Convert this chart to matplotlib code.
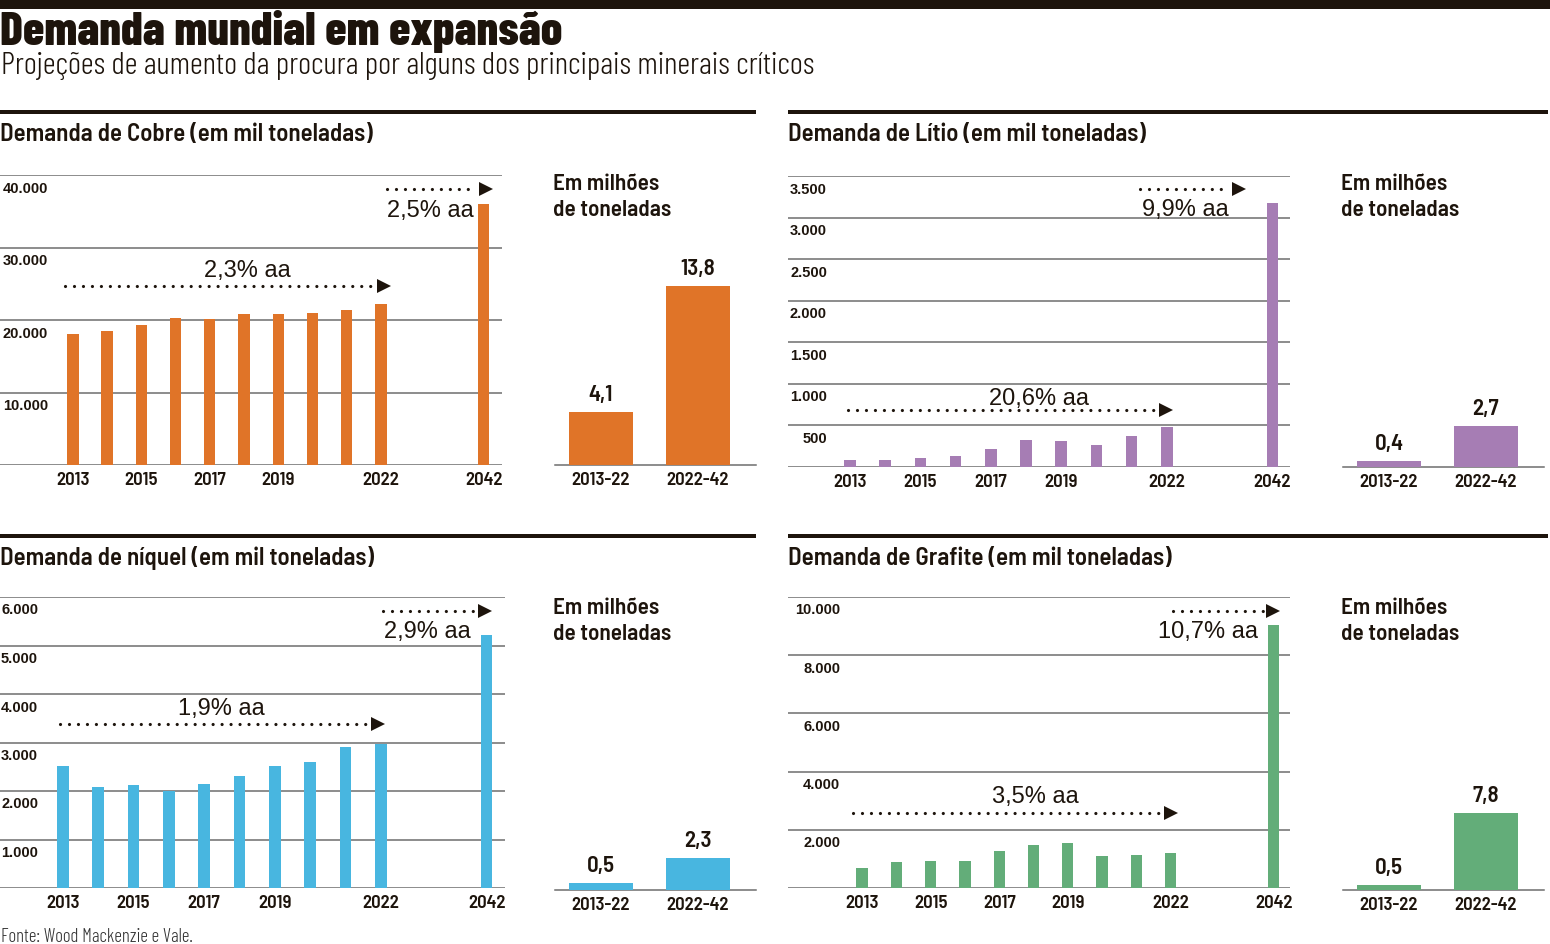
import matplotlib
matplotlib.use("Agg")
import matplotlib.pyplot as plt
from matplotlib.patches import Rectangle
from matplotlib.transforms import ScaledTranslation

# ---------------- data ----------------
years = ['2013', '2014', '2015', '2016', '2017', '2018', '2019', '2020', '2021', '2022', '2042']
year_pos = [0, 1, 2, 3, 4, 5, 6, 7, 8, 9, 12]
shown_years = ['2013', '2015', '2017', '2019', '2022', '2042']

copper = [18070, 18480, 19260, 20230, 20090, 20830, 20830, 20920, 21430, 22160, 36000]
lithium = [88, 88, 108, 128, 221, 321, 317, 261, 369, 478, 3170]
nickel = [2515, 2082, 2117, 1993, 2137, 2302, 2522, 2605, 2907, 2976, 5223]
graphite = [699, 882, 928, 928, 1283, 1489, 1558, 1088, 1145, 1203, 9049]

periods = ['2013-22', '2022-42']
copper_total = [4.1, 13.8]
lithium_total = [0.4, 2.7]
nickel_total = [0.5, 2.3]
graphite_total = [0.5, 7.8]

copper_growth = ['2,3% aa', '2,5% aa']
lithium_growth = ['20,6% aa', '9,9% aa']
nickel_growth = ['1,9% aa', '2,9% aa']
graphite_growth = ['3,5% aa', '10,7% aa']

title = 'Demanda mundial em expansão'
subtitle = 'Projeções de aumento da procura por alguns dos principais minerais críticos'
source = 'Fonte: Wood Mackenzie e Vale.'
unit_note = ['Em milhões', 'de toneladas']

# ---------------- style / layout ----------------
W, H, DPI = 1550, 944, 100
INK = '#1d140c'
GRID = '#6e6e6e'
COND = ['Barlow Condensed', 'DejaVu Sans']
SEMI = ['Barlow Semi Condensed', 'Barlow Condensed', 'DejaVu Sans']
SANS = ['Liberation Sans', 'DejaVu Sans']

fig = plt.figure(figsize=(W / DPI, H / DPI), dpi=DPI)
fig.patch.set_facecolor('white')
renderer = fig.canvas.get_renderer()


def px_axes(x0, y0, x1, y1):
    return fig.add_axes([x0 / W, 1 - y1 / H, (x1 - x0) / W, (y1 - y0) / H])


def fig_text(x, y, s, target_w=None, **kw):
    kw.setdefault('color', INK)
    t = fig.text(x / W, 1 - y / H, s, va='baseline', ha='left', **kw)
    if target_w:
        bb = t.get_window_extent(renderer)
        t.set_fontsize(t.get_fontsize() * target_w / bb.width)
    return t


def rect(x0, y0, x1, y1):
    fig.add_artist(Rectangle((x0 / W, 1 - y1 / H), (x1 - x0) / W, (y1 - y0) / H,
                             transform=fig.transFigure, color=INK, lw=0))


def dotted_arrow(ax, x0, x1, y):
    head_px = 13
    ms = head_px * 72 / DPI
    inv = ax.transData.inverted()
    tip_disp = ax.transData.transform((x1, y))
    base_x = inv.transform((tip_disp[0] - head_px, tip_disp[1]))[0]
    ax.plot([x0, base_x - 0.1], [y, y], color=INK, lw=2.3, ls=(0, (0.01, 2.8)),
            dash_capstyle='round', solid_capstyle='round', zorder=4)
    off = ScaledTranslation(-head_px / 2 / DPI, 0, fig.dpi_scale_trans)
    ax.plot([x1], [y], marker='>', ms=ms * 1.1, color=INK, mew=0,
            transform=ax.transData + off, zorder=4)


def fmt(v):
    return f'{v:,.0f}'.replace(',', '.')


panels = [
    dict(name='Demanda de Cobre (em mil toneladas)', head_w=372, ox=0, oy=0,
         main=(0, 175, 502, 465), xlim=(-2.13, 12.54), vals=copper, ymax=40000, step=10000,
         lab_r=48, color='#e07428', totals=copper_total, small_max=22.4,
         growth=copper_growth,
         g1=dict(x0=-0.23, x1=9.27, y=24690, tx=5.10, ty=25930),
         g2=dict(x0=9.18, x1=12.25, y=38070, tx=11.70, ty=34210)),
    dict(name='Demanda de Lítio (em mil toneladas)', head_w=358, ox=788, oy=0,
         main=(788, 176, 1290, 467), xlim=(-1.76, 12.5), vals=lithium, ymax=3500, step=500,
         lab_r=39, color='#a67db4', totals=lithium_total, small_max=19.1,
         growth=lithium_growth,
         g1=dict(x0=-0.06, x1=9.15, y=686, tx=5.36, ty=746),
         g2=dict(x0=8.24, x1=11.25, y=3344, tx=10.77, ty=3019)),
    dict(name='Demanda de níquel (em mil toneladas)', head_w=373, ox=0, oy=424,
         main=(0, 597, 505, 888), xlim=(-1.78, 12.52), vals=nickel, ymax=6000, step=1000,
         lab_r=38, color='#48b6e0', totals=nickel_total, small_max=21.1,
         growth=nickel_growth,
         g1=dict(x0=-0.08, x1=9.10, y=3381, tx=4.49, ty=3567),
         g2=dict(x0=9.07, x1=12.15, y=5711, tx=11.56, ty=5155)),
    dict(name='Demanda de Grafite (em mil toneladas)', head_w=384, ox=788, oy=424,
         main=(788, 597, 1290, 888), xlim=(-2.16, 12.48), vals=graphite, ymax=10000, step=2000,
         lab_r=52, color='#63ad79', totals=graphite_total, small_max=29.7,
         growth=graphite_growth,
         g1=dict(x0=-0.26, x1=9.21, y=2577, tx=5.04, ty=2921),
         g2=dict(x0=9.07, x1=12.16, y=9519, tx=11.55, ty=8591)),
]

# ---------------- header ----------------
rect(0, 0, W, 9)
fig_text(0, 45, title, target_w=563, family=COND, weight=800, fontsize=30)
fig_text(1, 74, subtitle, target_w=812, family=COND, weight=300, fontsize=18)
fig_text(1, 942, source, target_w=193, family=COND, weight=300,
         fontsize=10, color='#333333')

for p in panels:
    ox, oy = p['ox'], p['oy']
    rect(ox, 110 + oy, ox + (756 if ox == 0 else 760), 114 + oy)
    fig_text(ox, 141 + oy, p['name'], target_w=p['head_w'], family=SEMI,
             weight=600, fontsize=17)

    ax = px_axes(*p['main'])
    ax.bar(year_pos, p['vals'], width=0.33, color=p['color'], zorder=3)
    ax.set_xlim(*p['xlim'])
    ax.set_ylim(0, p['ymax'])
    ticks = list(range(0, p['ymax'] + 1, p['step']))
    ax.set_yticks(ticks)
    ax.set_yticklabels([''] + [fmt(t) for t in ticks[1:]])
    ax.grid(axis='y', color=GRID, lw=1.1, zorder=1)
    ax.set_axisbelow(True)
    for s in ax.spines.values():
        s.set_visible(False)
    ax.tick_params(axis='y', length=0, pad=-p['lab_r'] * 72 / DPI, labelsize=10.5,
                   labelcolor=INK)
    for lab in ax.get_yticklabels():
        lab.set_fontfamily(SANS)
        lab.set_fontweight('bold')
        lab.set_transform(lab.get_transform() +
                          ScaledTranslation(0, -12 / DPI, fig.dpi_scale_trans))
    xt = [year_pos[years.index(y)] for y in shown_years]
    ax.set_xticks(xt)
    ax.set_xticklabels(shown_years, family=SEMI, weight=600, fontsize=13.5, color=INK)
    ax.tick_params(axis='x', length=0, pad=5)
    ax.set_facecolor('none')

    for g, label, ha in ((p['g1'], p['growth'][0], 'center'), (p['g2'], p['growth'][1], 'right')):
        dotted_arrow(ax, g['x0'], g['x1'], g['y'])
        ax.text(g['tx'], g['ty'], label, ha=ha, va='baseline', family=SANS,
                fontsize=17, color=INK, zorder=5)

    mx0, my0, mx1, my1 = p['main']
    sax = px_axes(555 + ox, my0, 756 + ox, my1 + (2 if oy else 0))
    sax.bar([0, 1], p['totals'], width=0.66, color=p['color'], zorder=3)
    sax.set_xlim(-0.474, 1.60)
    sax.set_ylim(0, p['small_max'])
    for s in ('top', 'right', 'left'):
        sax.spines[s].set_visible(False)
    sax.spines['bottom'].set_color(GRID)
    sax.spines['bottom'].set_linewidth(1.1)
    sax.set_yticks([])
    sax.set_xticks([0, 1])
    sax.set_xticklabels(periods, family=SEMI, weight=600, fontsize=13.5, color=INK)
    sax.tick_params(axis='x', length=0, pad=5)
    sax.set_facecolor('none')
    for i, v in enumerate(p['totals']):
        sax.annotate(f'{v:.1f}'.replace('.', ','), (i, v), xytext=(0, 5),
                     textcoords='offset points', ha='center', va='bottom',
                     family=SEMI, weight=600, fontsize=16.5, color=INK)
    fig_text(553 + ox, 190 + oy, unit_note[0], target_w=106, family=SEMI,
             weight=600, fontsize=15)
    fig_text(553 + ox, 216 + oy, unit_note[1], target_w=118, family=SEMI,
             weight=600, fontsize=15)

fig.savefig('out.png', dpi=DPI, facecolor='white')
